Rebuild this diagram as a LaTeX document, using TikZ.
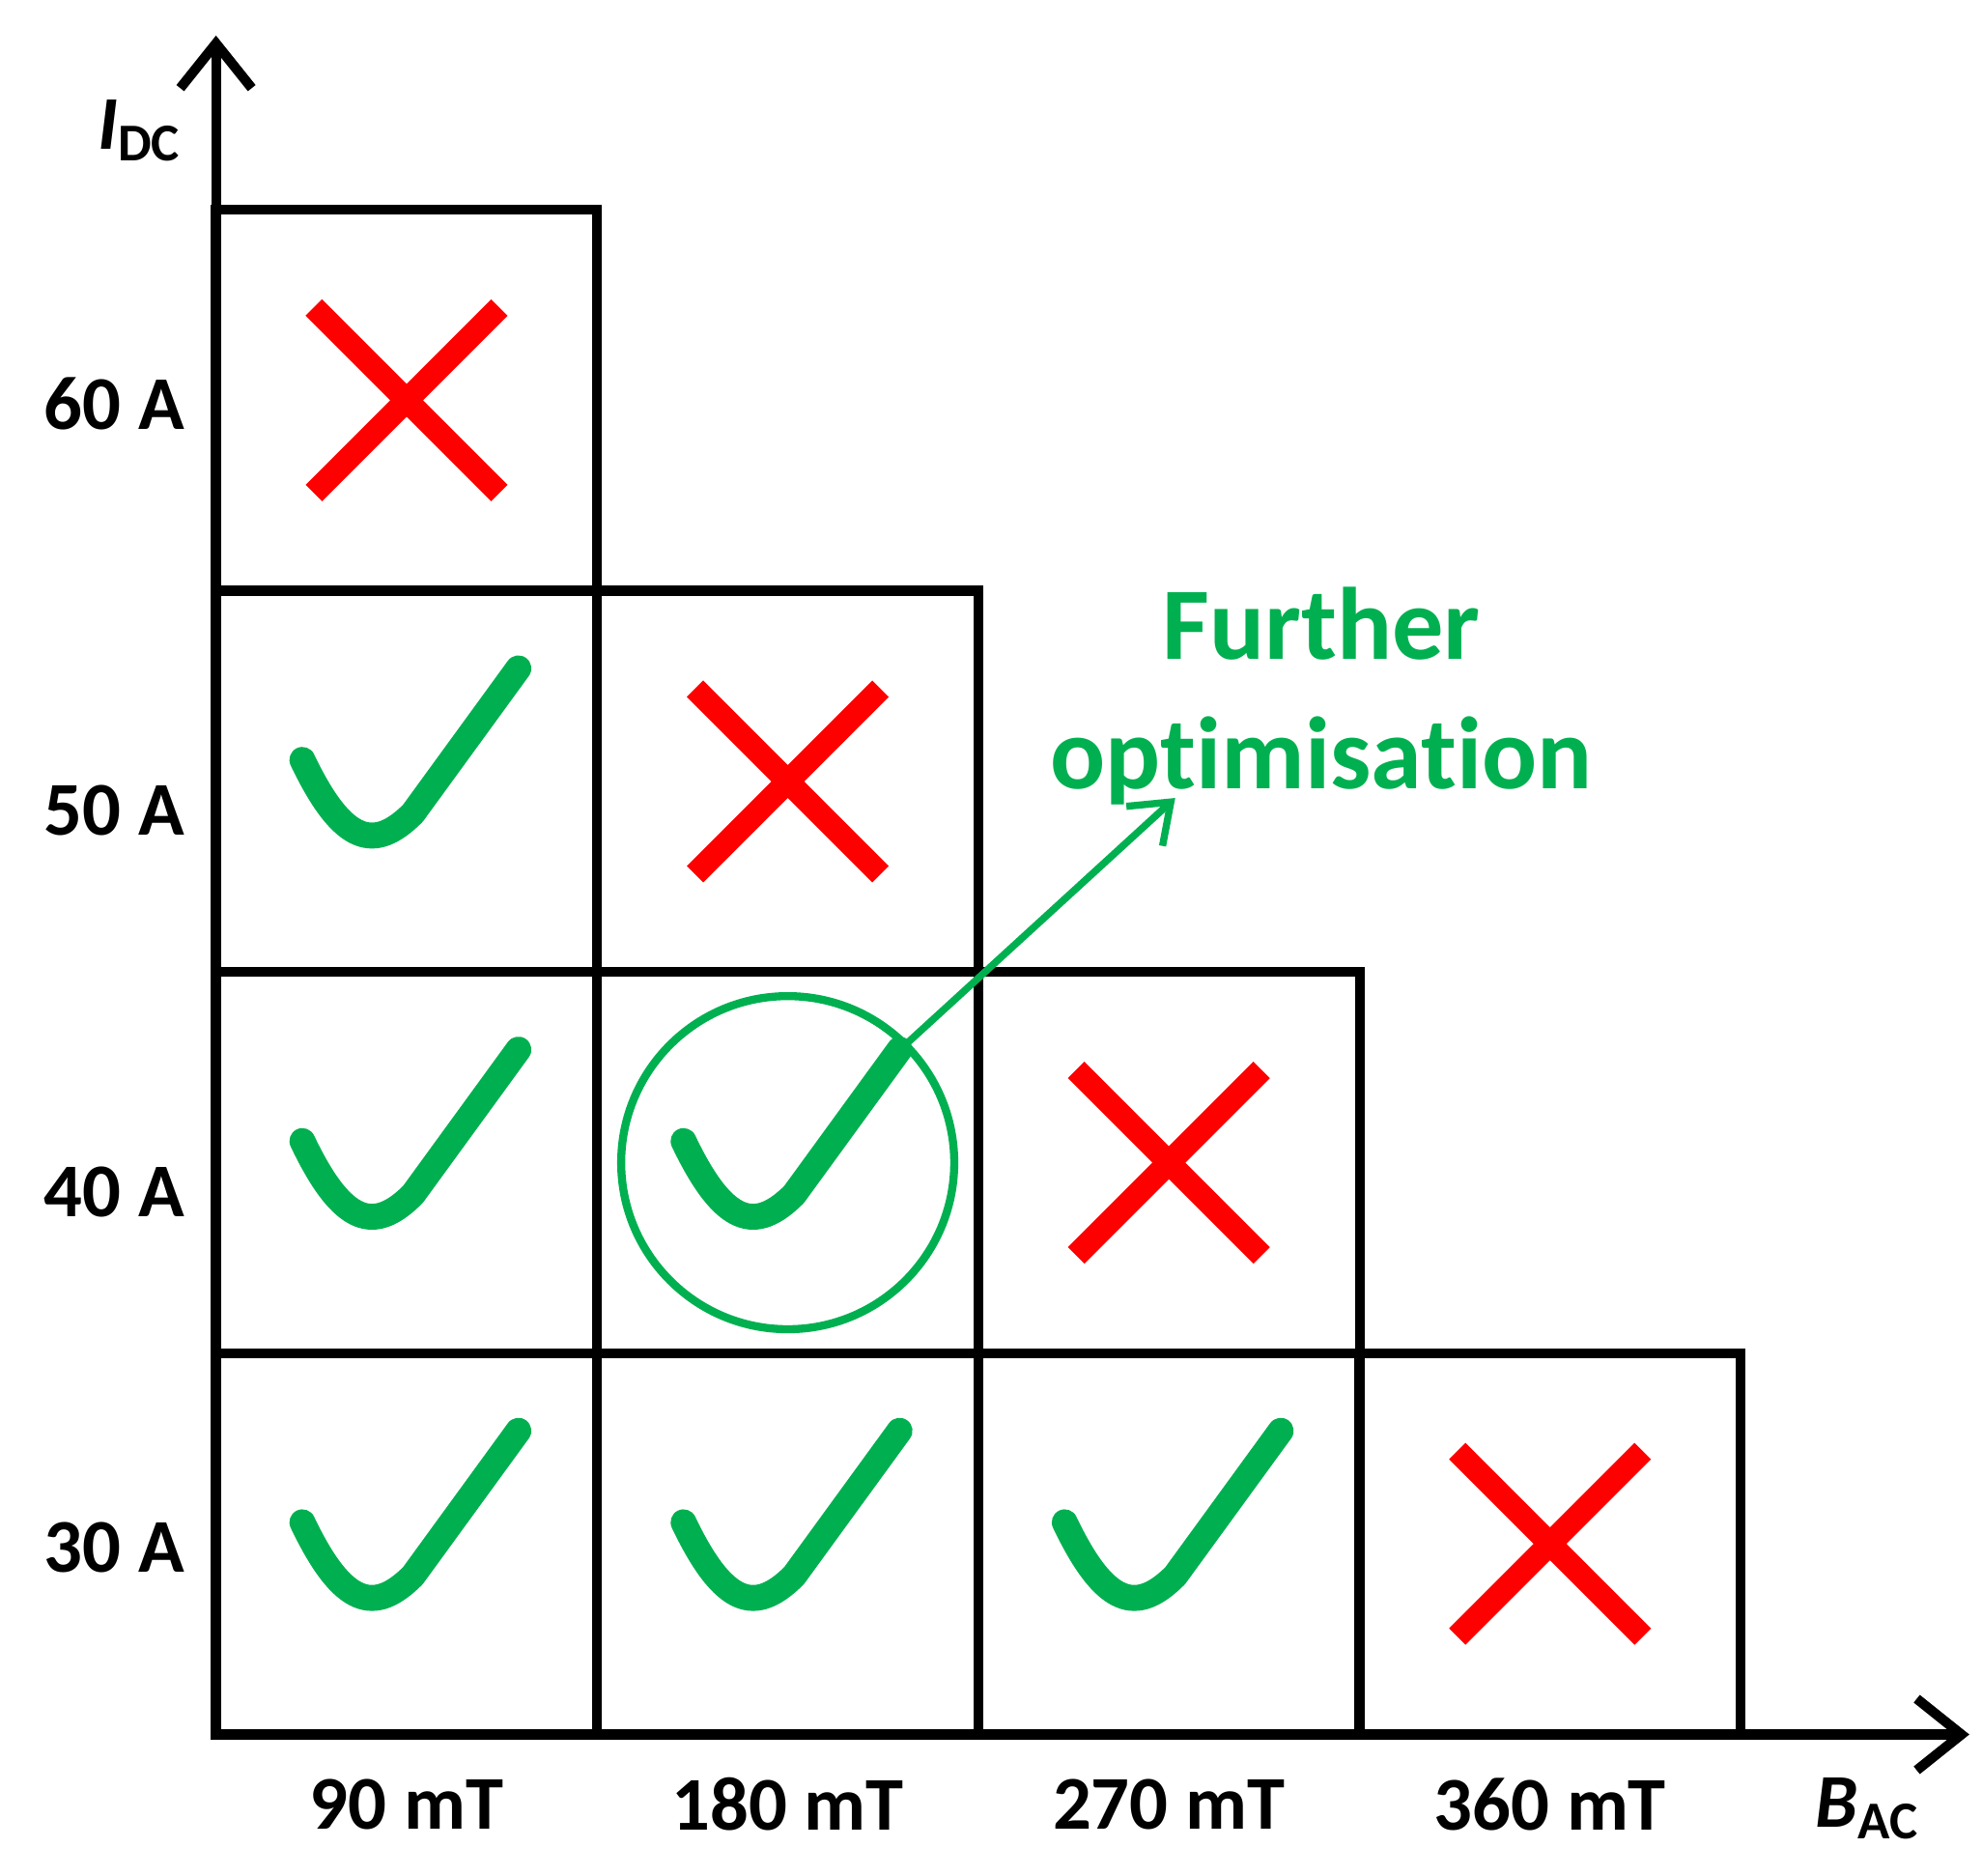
\documentclass[tikz,border=0pt]{standalone}
\usepackage{fontspec}
\setmainfont[Ligatures=NoCommon]{Carlito}
\usetikzlibrary{arrows.meta,calc}
\definecolor{okgreen}{RGB}{0,176,80}
\tikzset{
  cell/.style={draw,line width=2.2pt,minimum size=3cm,inner sep=0pt},
  lab/.style={font=\fontsize{17}{20}\selectfont\bfseries},
  itlab/.style={font=\fontsize{17}{20}\selectfont\bfseries\itshape},
  cross/.style={red,line width=5.2pt},
  tick/.style={okgreen,line width=5.8pt,line cap=round,line join=round}
}
\newcommand{\crossat}[1]{\draw[cross] ($(#1)+(-73,-73)$)--($(#1)+(73,73)$) ($(#1)+(-73,73)$)--($(#1)+(73,-73)$);}
\newcommand{\tickat}[1]{\draw[tick] ($(#1)+(-82,-17)$) .. controls ($(#1)+(-50,50)$) and ($(#1)+(-25,55)$) .. ($(#1)+(5,25)$) -- ($(#1)+(88,-89)$);}
\begin{document}
\begin{tikzpicture}[x=0.01cm,y=-0.01cm]
 \useasboundingbox (0,0) rectangle (1560,1476);
 % cells: column i, row j (row 1 at bottom)
 \foreach \i/\j in {1/1,2/1,3/1,4/1,1/2,2/2,3/2,1/3,2/3,1/4}
   \node[cell] (c\i\j) at ({170+300*\i-150},{1365-300*\j+150}) {};
 \draw[line width=2.2pt,-{Straight Barb[length=10pt,width=16pt]}] (170,1365)--(1550,1365);
 \draw[line width=2.2pt,-{Straight Barb[length=10pt,width=16pt]}] (170,1365)--(170,28);
 \node[itlab] (idc) at (110,103) {I\textsubscript{\upshape DC}};
 \node[itlab] (bac) at (1470,1423) {B\textsubscript{\upshape AC}};
 \foreach \t/\y [count=\j] in {30/1218,40/938,50/638,60/318}
   \node[lab] (r\j) at (90,\y) {\t\ A};
 \foreach \t [count=\i] in {90,180,270,360}
   \node[lab] (m\i) at ({320+300*(\i-1)},1420) {\t\ mT};
 \crossat{c14} \crossat{c23} \crossat{c32} \crossat{c41}
 \tickat{c13} \tickat{c12} \tickat{c11} \tickat{c22} \tickat{c21} \tickat{c31}
 \node[circle,draw=okgreen,line width=1.8pt,minimum size=2.62cm] (best) at (c22) {};
 \node[okgreen,font=\fontsize{23}{29}\selectfont\bfseries,align=center] (opt) at (1040,548) {Further\\optimisation};
 \coordinate (tip) at (925,628);
 \draw[okgreen,line width=1.6pt,-{Straight Barb[length=8pt,width=12pt]}] (best.45)--(tip);
\end{tikzpicture}
\end{document}
